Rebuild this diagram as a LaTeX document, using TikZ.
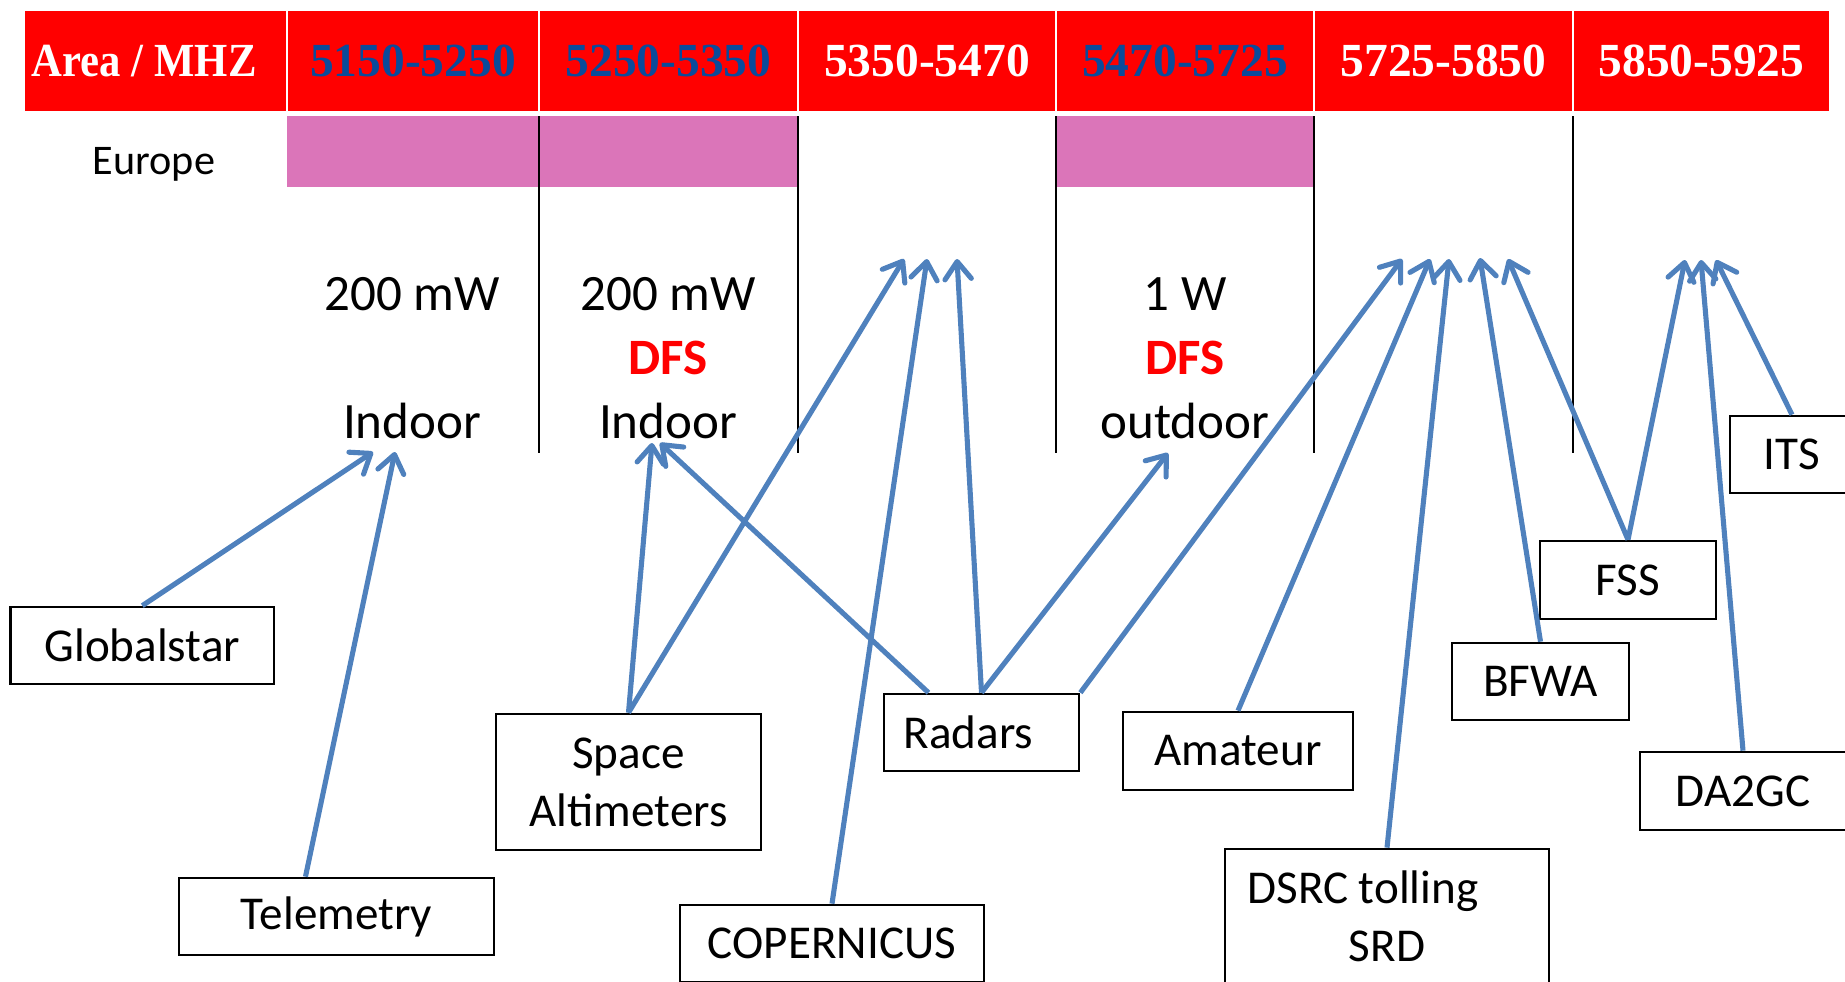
\documentclass[tikz,border=0pt]{standalone}
\usepackage{fontspec}
\setmainfont{Carlito}
\newfontfamily\hdrfont{Liberation Serif}
\usetikzlibrary{arrows.meta}
\definecolor{bandred}{RGB}{255,0,0}
\definecolor{bandblue}{RGB}{10,75,155}
\definecolor{europink}{RGB}{219,117,185}
\definecolor{linkblue}{RGB}{79,129,189}

\begin{document}
\begin{tikzpicture}[x=0.01cm, y=-0.01cm]
    \tikzstyle{hdr}=[rectangle, fill=bandred, draw=white, line width=0.8pt, minimum height=1.02cm, inner sep=0pt, text height=0.31cm, text depth=0pt, text=white, font=\hdrfont\bfseries\fontsize{13.5}{15}\selectfont]
    \tikzstyle{band}=[rectangle, fill=europink, minimum height=0.71cm, inner sep=0pt]
    \tikzstyle{rule}=[draw=black, line width=0.7pt]
    \tikzstyle{col}=[anchor=base, inner sep=0pt, font=\fontsize{14.5}{17}\selectfont]
    \tikzstyle{dfs}=[col, text=bandred, font=\bfseries\fontsize{14.5}{17}\selectfont]
    \tikzstyle{service}=[rectangle, draw=black, line width=0.75pt, inner sep=0pt, minimum height=0.77cm, align=center, font=\fontsize{13.4}{16.5}\selectfont]
    \tikzstyle{link}=[draw=linkblue, line width=1.45pt, -{Straight Barb[length=5pt,width=7.5pt,round]}]

    \useasboundingbox (0,0) rectangle (1845,981);

    % Header row
    \node[hdr, minimum width=2.635cm] (h0) at (155.25,61) {\scalebox{0.9}[1]{Area / MHZ}\hspace*{0.22cm}};
    \node[hdr, minimum width=2.52cm, text=bandblue] (h1) at (413,61) {5150-5250};
    \node[hdr, minimum width=2.59cm, text=bandblue] (h2) at (668.5,61) {5250-5350};
    \node[hdr, minimum width=2.58cm] (h3) at (927,61) {5350-5470};
    \node[hdr, minimum width=2.58cm, text=bandblue] (h4) at (1185,61) {5470-5725};
    \node[hdr, minimum width=2.59cm] (h5) at (1443.5,61) {5725-5850};
    \node[hdr, minimum width=2.57cm] (h6) at (1701.5,61) {5850-5925};

    % Europe row
    \node[anchor=base, font=\fontsize{12}{14}\selectfont] (eu) at (154,174) {Europe};
    \node[band, minimum width=5.095cm] (eu-a) at (542.25,151.5) {};
    \node[band, minimum width=2.56cm] (eu-b) at (1185,151.5) {};

    % Column rules
    \draw[rule] (539,116) -- (539,453);
    \draw[rule] (798,116) -- (798,453);
    \draw[rule] (1056,116) -- (1056,453);
    \draw[rule] (1314,116) -- (1314,453);
    \draw[rule] (1573,116) -- (1573,453);

    % Conditions per band
    \node[col] (pw1) at (412,310) {200 mW};
    \node[col] (loc1) at (412,438) {Indoor};
    \node[col] (pw2) at (668,310) {200 mW};
    \node[dfs] (dfs2) at (668,374) {DFS};
    \node[col] (loc2) at (668,438) {Indoor};
    \node[col] (pw4) at (1185,310) {1 W};
    \node[dfs] (dfs4) at (1185,374) {DFS};
    \node[col] (loc4) at (1185,438) {outdoor};

    % Services
    \node[service, minimum width=2.63cm] (glob) at (142.3,645.5) {Globalstar};
    \node[service, minimum width=3.15cm] (tele) at (336.5,916.5) {Telemetry};
    \node[service, minimum width=2.65cm, minimum height=1.36cm] (alti) at (628.5,782) {Space\\Altimeters};
    \node[service, minimum width=3.04cm] (cop) at (832,943.5) {COPERNICUS};
    \node[service, minimum width=1.95cm] (radar) at (981.5,732.5) {Radars\hspace*{0.26cm}};
    \node[service, minimum width=2.30cm, minimum height=0.78cm] (amat) at (1238,751) {Amateur};
    \node[service, minimum width=3.24cm, minimum height=1.34cm] (dsrc) at (1387,916) {DSRC tolling\hspace*{0.48cm}\\SRD};
    \node[service, minimum width=1.77cm] (bfwa) at (1540.5,681.5) {BFWA};
    \node[service, minimum width=1.76cm, minimum height=0.78cm] (fss) at (1628,580) {FSS};
    \node[service, minimum width=2.06cm, minimum height=0.78cm] (da2gc) at (1743,791) {DA2GC};
    \node[service, minimum width=1.24cm] (its) at (1792,454.5) {ITS};

    % Arrow targets
    \coordinate (in1a) at (373,452);
    \coordinate (in1b) at (395,452);
    \coordinate (in2a) at (652,443);
    \coordinate (in2b) at (660,443);
    \coordinate (c3a) at (904,259);
    \coordinate (c3b) at (927,259);
    \coordinate (c3c) at (957,259);
    \coordinate (out4) at (1168,453);
    \coordinate (c5a) at (1402,259);
    \coordinate (c5b) at (1430,259);
    \coordinate (c5c) at (1449,259);
    \coordinate (c5d) at (1480,258);
    \coordinate (c5e) at (1508,259);
    \coordinate (c6a) at (1685,260);
    \coordinate (c6b) at (1701,260);
    \coordinate (c6c) at (1716,260);

    % Links
    \path (glob.north) edge[link] (in1a);
    \path ([xshift=-0.31cm]tele.north) edge[link] (in1b);
    \path (alti.north) edge[link] (in2a);
    \path (alti.north) edge[link] (c3a);
    \path ([xshift=-0.53cm]radar.north) edge[link] (in2b);
    \path (cop.north) edge[link] (c3b);
    \path (radar.north) edge[link] (c3c);
    \path (radar.north) edge[link] (out4);
    \path (radar.north east) edge[link] (c5a);
    \path (amat.north) edge[link] (c5b);
    \path (dsrc.north) edge[link] (c5c);
    \path (bfwa.north) edge[link] (c5d);
    \path (fss.north) edge[link] (c5e);
    \path (fss.north) edge[link] (c6a);
    \path (da2gc.north) edge[link] (c6b);
    \path (its.north) edge[link] (c6c);
\end{tikzpicture}
\end{document}
